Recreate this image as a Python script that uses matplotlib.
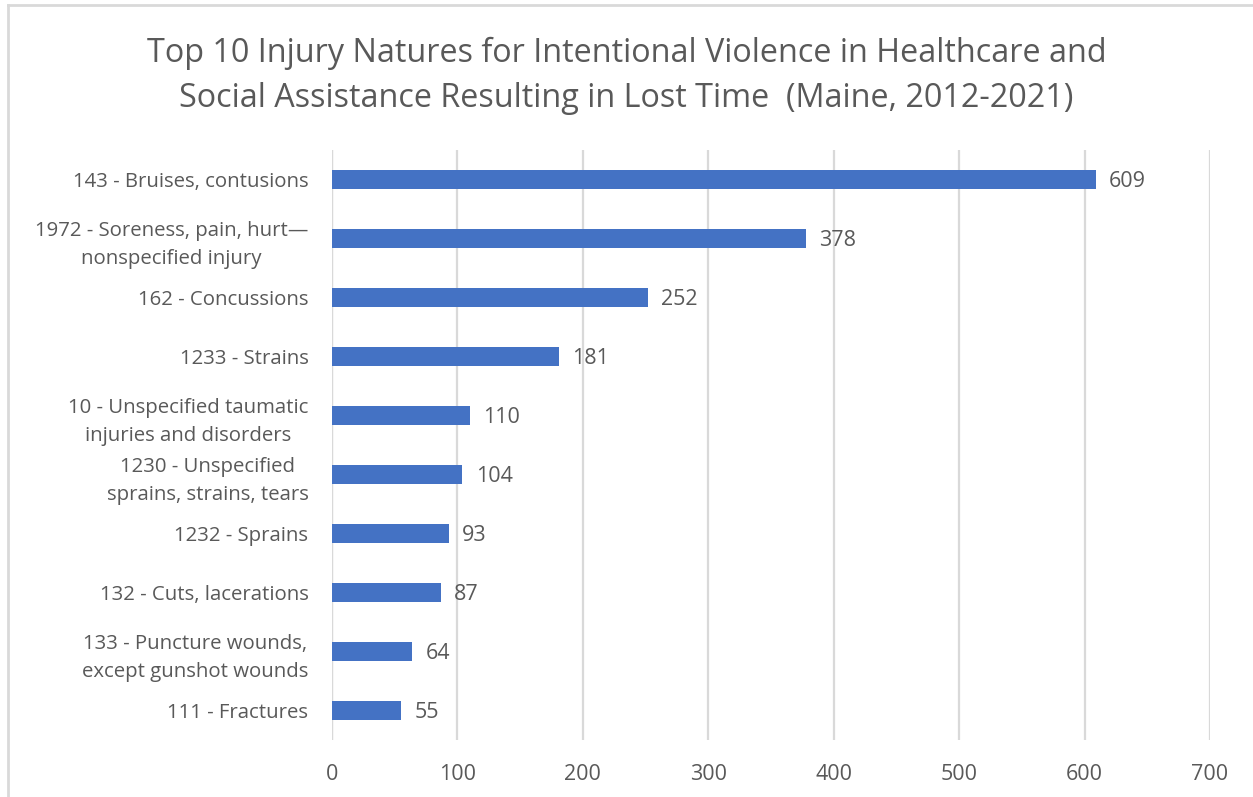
import matplotlib
matplotlib.use("Agg")
import matplotlib.pyplot as plt
from matplotlib.lines import Line2D

categories = [
    "143 - Bruises, contusions",
    "1972 - Soreness, pain, hurt\u2014\nnonspecified injury",
    "162 - Concussions",
    "1233 - Strains",
    "10 - Unspecified taumatic\ninjuries and disorders",
    "1230 - Unspecified\nsprains, strains, tears",
    "1232 - Sprains",
    "132 - Cuts, lacerations",
    "133 - Puncture wounds,\nexcept gunshot wounds",
    "111 - Fractures",
]
values = [609, 378, 252, 181, 110, 104, 93, 87, 64, 55]
x_ticks = [0, 100, 200, 300, 400, 500, 600, 700]
title = ("Top 10 Injury Natures for Intentional Violence in Healthcare and\n"
         "Social Assistance Resulting in Lost Time  (Maine, 2012-2021)")

plt.rcParams['font.family'] = ['Open Sans', 'DejaVu Sans']
text_color = "#595959"
bar_color = "#4472C4"
grid_color = "#D9D9D9"

W, H = 1253, 797
fig = plt.figure(figsize=(W / 100, H / 100), dpi=100)
ax = fig.add_axes([332 / W, 1 - 740 / H, (1210 - 332) / W, (740 - 150) / H])

ypos = list(range(len(categories)))
ax.barh(ypos, values, height=0.31, color=bar_color, zorder=3)
ax.set_ylim(len(categories) - 0.5, -0.5)
ax.set_xlim(0, 700)
ax.set_xticks(x_ticks)
ax.set_xticklabels([str(t) for t in x_ticks], fontsize=15.5, color=text_color)
ax.set_yticks(ypos)
ax.set_yticklabels(categories, fontsize=14.7, color=text_color,
                   multialignment="center", linespacing=1.55)
ax.tick_params(axis="both", length=0)
ax.tick_params(axis="x", pad=17)
ax.tick_params(axis="y", pad=17)
ax.xaxis.grid(True, color=grid_color, linewidth=1.6, zorder=0)
ax.set_axisbelow(True)
for s in ax.spines.values():
    s.set_visible(False)
ax.axvline(0, color=grid_color, linewidth=1.6, zorder=1)

for y, v in zip(ypos, values):
    ax.annotate(str(v), (v, y), xytext=(9.5, -1.5), textcoords="offset points",
                va="center", ha="left", fontsize=15.5, color=text_color)

fig.text(0.5, 1 - 76 / H, title, ha="center", va="center", fontsize=23.3,
         color=text_color, linespacing=1.5)

# chart border (top and left edges visible)
fig.add_artist(Line2D([8 / W, 1.0], [1 - 5 / H, 1 - 5 / H], transform=fig.transFigure,
                      color=grid_color, linewidth=2))
fig.add_artist(Line2D([8 / W, 8 / W], [0, 1 - 5 / H], transform=fig.transFigure,
                      color=grid_color, linewidth=2))

fig.savefig("out.png", dpi=100, facecolor="white")
